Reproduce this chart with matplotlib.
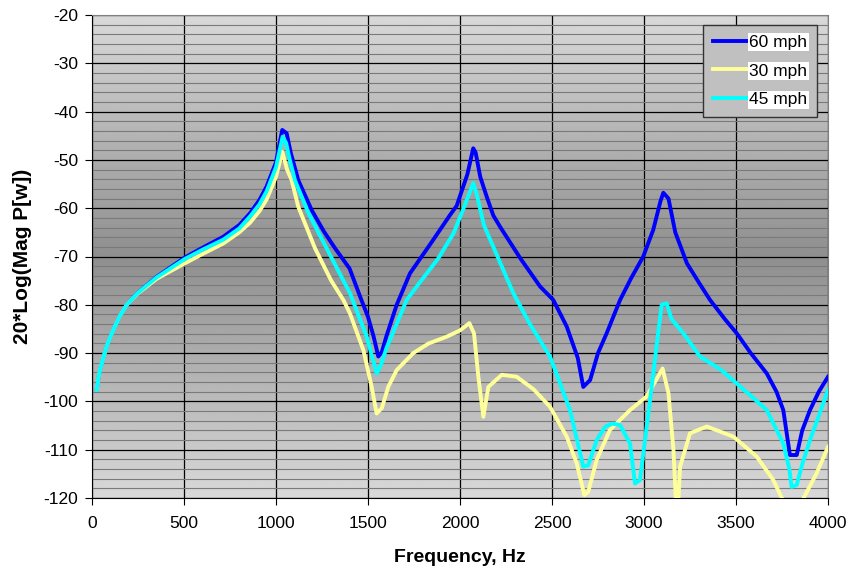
import numpy as np
import matplotlib
matplotlib.use("Agg")
import matplotlib.pyplot as plt
from matplotlib.ticker import MultipleLocator

plt.rcParams['font.family'] = ['Liberation Sans', 'DejaVu Sans']
plt.rcParams['axes.unicode_minus'] = False

# 60 mph
f60 = [25, 40, 61, 85, 116, 150, 189, 250, 352, 505, 600, 714, 800, 860, 910, 949, 1000, 1020,
       1034, 1058, 1080, 1121, 1194, 1260, 1321, 1400, 1457, 1500, 1530, 1556, 1575, 1600, 1656,
       1728, 1850, 1946, 1982, 2040, 2072, 2085, 2110, 2145, 2181, 2217, 2330, 2435, 2507, 2580,
       2640, 2670, 2707, 2750, 2797, 2870, 2930, 2996, 3050, 3090, 3105, 3133, 3170, 3233, 3300,
       3359, 3440, 3504, 3580, 3667, 3720, 3757, 3793, 3830, 3860, 3902, 3950, 4000]
v60 = [-97.6, -94, -91, -88, -85.2, -82.4, -80, -77.5, -74.2, -70.2, -68.2, -65.9, -63.5, -61, -58.3, -55.5, -50.5, -46.5,
       -43.8, -44.5, -48.5, -54.2, -60.4, -64.8, -68.3, -72.5, -78.3, -82.5, -86.5, -90.7, -89.8, -86.5, -80,
       -73.5, -66.8, -61.4, -59.5, -53, -47.6, -48.5, -53.5, -57.6, -61.5, -63.8, -70.5, -76.2, -79, -84.5,
       -91, -97, -95.6, -90, -85.9, -79, -74.5, -70, -64.5, -58.5, -56.8, -58, -65, -71.4, -75.5,
       -79, -83, -85.9, -90, -94.2, -98, -101.8, -111.1, -111.1, -106, -101.8, -98, -94.9]

# 30 mph
f30 = [25, 40, 61, 85, 116, 150, 189, 250, 352, 505, 600, 714, 800, 859, 910, 949, 1000, 1020,
       1034, 1060, 1085, 1121, 1212, 1300, 1366, 1402, 1475, 1520, 1547, 1575, 1610, 1656, 1746,
       1830, 1928, 2000, 2051, 2076, 2100, 2127, 2154, 2227, 2308, 2400, 2489, 2580, 2634, 2676,
       2697, 2743, 2815, 2924, 3014, 3101, 3133, 3160, 3180, 3196, 3250, 3341, 3486, 3612, 3703,
       3754, 3800, 3862, 3938, 4000]
v30 = [-97.6, -94, -91, -88, -85.2, -82.4, -80, -77.6, -74.6, -71.4, -69.5, -67.3, -65, -63, -60.6, -58.2, -53.5, -50.5,
       -48.3, -52, -54.2, -59.7, -68.3, -75, -79, -81.8, -89.4, -97, -102.5, -101.4, -97, -93.5, -90,
       -88, -86.6, -85.3, -83.8, -85.9, -95, -103.2, -97, -94.5, -94.9, -97.5, -101.1, -107.3, -112.8, -119.4,
       -118.7, -112.1, -105.9, -101.8, -99, -93.2, -98.3, -110, -126, -113.5, -106.6, -105.2, -107.3, -111.4, -116.3,
       -120.4, -127, -120.4, -114.9, -109.4]

# 45 mph
f45 = [25, 40, 61, 85, 116, 150, 189, 250, 352, 505, 600, 714, 800, 859, 910, 949, 1000, 1020,
       1036, 1055, 1075, 1103, 1176, 1275, 1402, 1493, 1547, 1570, 1600, 1650, 1710, 1765, 1880,
       1965, 2030, 2072, 2090, 2130, 2181, 2290, 2380, 2489, 2598, 2670, 2697, 2743, 2790, 2830,
       2870, 2924, 2951, 2978, 3033, 3070, 3096, 3123, 3150, 3214, 3304, 3420, 3504, 3600, 3667,
       3757, 3790, 3802, 3830, 3860, 3902, 3950, 4000]
v45 = [-97.6, -94, -91, -88, -85.2, -82.4, -80, -77.5, -74.3, -70.5, -68.6, -66.5, -64.2, -61.7, -59.2, -56.5, -51.5, -48,
       -45.2, -46.5, -50, -54.2, -61, -68.3, -77.6, -86.6, -94.2, -92.5, -89, -84.5, -79, -76.2, -70.5,
       -65.2, -59, -54.8, -57, -63.5, -68, -77.6, -84, -90.7, -101.8, -113.5, -113.2, -108, -105.2, -104.6,
       -104.9, -108.7, -117, -116.3, -99.7, -88, -80, -79.7, -83, -85.9, -90.7, -93.5, -96.3, -99.5, -101.8,
       -108.7, -114, -117.7, -117.3, -113, -108, -103, -97.6]

yticks = list(range(-120, -19, 10))
xticks = list(range(0, 4001, 500))

fig = plt.figure(figsize=(8.51, 5.72), dpi=100)
ax = fig.add_axes([92/851, 1-498/572, 736/851, 483/572])

# background gradient: light at top/bottom, dark in the middle
t = np.linspace(0, 1, 200)
shade = 0.85 - 0.29 * (1 - np.abs(t - 0.5) * 2)
grad = np.tile(shade[:, None], (1, 2))
ax.imshow(grad, extent=[0, 4000, -120, -20], aspect='auto', cmap='gray',
          vmin=0, vmax=1, origin='lower', zorder=0, interpolation='bilinear')

ax.plot(f60, v60, color='#0000ff', lw=2.8, label='60 mph', zorder=3)
ax.plot(f30, v30, color='#ffff99', lw=2.8, label='30 mph', zorder=3)
ax.plot(f45, v45, color='#00ffff', lw=2.8, label='45 mph', zorder=3)

ax.set_xlim(0, 4000)
ax.set_ylim(-120, -20)
ax.set_xticks(xticks)
ax.set_yticks(yticks)
ax.yaxis.set_minor_locator(MultipleLocator(2))
ax.grid(which='minor', axis='y', color='#7a7a7a', lw=0.8, zorder=1)
ax.grid(which='major', axis='both', color='black', lw=0.9, zorder=1)
ax.tick_params(which='minor', length=0)
ax.tick_params(which='major', direction='out', length=5, labelsize=12.5, color='black')
ax.tick_params(axis='x', pad=8)
ax.tick_params(axis='y', pad=5)

for s in ['top', 'right']:
    ax.spines[s].set_color('#808080')
for s in ['left', 'bottom']:
    ax.spines[s].set_color('black')

ax.set_xlabel('Frequency, Hz', fontsize=14, fontweight='bold', labelpad=13)
ax.set_ylabel('20*Log(Mag P[w])', fontsize=15, fontweight='bold', labelpad=8)

leg = ax.legend(loc='upper right', bbox_to_anchor=(0.985, 0.979), borderaxespad=0,
                fancybox=False, framealpha=1, facecolor='#c0c0c0', edgecolor='#333333',
                fontsize=12.5, handlelength=1.95, handletextpad=0.15, labelspacing=0.78,
                borderpad=0.55)
for txt in leg.get_texts():
    txt.set_bbox(dict(facecolor='white', edgecolor='none', pad=1))
leg.set_zorder(5)

fig.savefig('out.png', dpi=100)
